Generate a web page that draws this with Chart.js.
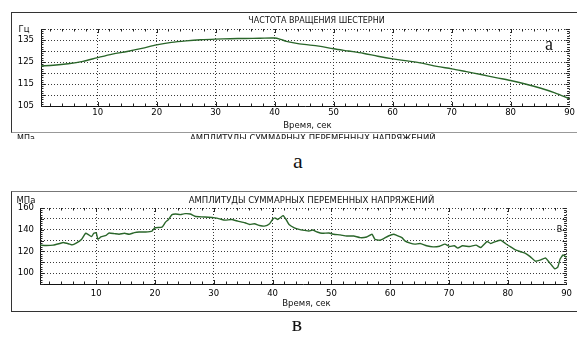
<!DOCTYPE html>
<html><head><meta charset="utf-8">
<script src="https://cdn.jsdelivr.net/npm/chart.js@4/dist/chart.umd.min.js"></script>
<style>
html,body{margin:0;padding:0;background:#fff;}
body{width:577px;height:339px;position:relative;overflow:hidden;font-family:"DejaVu Sans",sans-serif;color:#111;}
.abs{position:absolute;}
.t{position:absolute;white-space:nowrap;line-height:1;transform:translate(-50%,-50%);}
canvas{position:absolute;left:0;}
</style></head>
<body>
<!-- panel frames -->
<div class="abs" style="left:11px;top:12px;width:570px;height:119px;border-left:1px solid #333;border-top:1px solid #333;border-bottom:1px solid #999;"></div>
<div class="abs" style="left:11px;top:191px;width:570px;height:119px;border-left:1px solid #333;border-top:1px solid #777;border-bottom:1px solid #333;"></div>

<canvas id="c1" width="577" height="131" style="top:0"></canvas>
<canvas id="c2" width="577" height="120" style="top:190px"></canvas>

<!-- top chart texts -->
<div class="t" style="left:24px;top:28.5px;font-size:8.5px;">Гц</div>
<div class="t" style="left:316.5px;top:21px;font-size:8px;">ЧАСТОТА ВРАЩЕНИЯ ШЕСТЕРНИ</div>
<div class="t" style="left:307.5px;top:125px;font-size:8.5px;">Время, сек</div>
<div class="t" style="left:549px;top:44px;font-size:18px;font-family:'Liberation Serif',serif;">а</div>
<div class="abs" style="left:0;top:133px;width:577px;height:6px;overflow:hidden;">
  <div class="abs" style="left:17px;top:2px;font-size:8px;line-height:1;">МПа</div>
  <div class="abs" style="left:190px;top:1px;font-size:8.5px;line-height:1;white-space:nowrap;">АМПЛИТУДЫ СУММАРНЫХ ПЕРЕМЕННЫХ НАПРЯЖЕНИЙ</div>
</div>
<div class="t" style="left:298px;top:161px;font-size:22px;font-family:'Liberation Serif',serif;">а</div>

<!-- bottom chart texts -->
<div class="t" style="left:26px;top:200px;font-size:8.5px;">МПа</div>
<div class="t" style="left:311.5px;top:200px;font-size:8.5px;">АМПЛИТУДЫ СУММАРНЫХ ПЕРЕМЕННЫХ НАПРЯЖЕНИЙ</div>
<div class="t" style="left:306.5px;top:303px;font-size:8.5px;">Время, сек</div>
<div class="t" style="left:559.5px;top:229.5px;font-size:8px;">В</div>
<div class="t" style="left:297px;top:324px;font-size:22px;font-family:'Liberation Serif',serif;">в</div>

<script>
// ---- data ----
const topTime = [0.4, 2.5, 5, 7.5, 10, 12.5, 15, 17.5, 20, 22.5, 25, 27.5, 30, 32.5, 35, 37.5, 40, 41, 42, 43.5, 45, 47.5, 50, 52.5, 55, 57.5, 60, 62.5, 65, 67.5, 70, 72.5, 75, 77.5, 80, 82.5, 85, 87.5, 90];
const topFreq = [123.2, 123.5, 124.2, 125.3, 127.0, 128.6, 129.8, 131.2, 132.8, 133.9, 134.6, 135.1, 135.4, 135.6, 135.7, 135.8, 135.9, 135.3, 134.4, 133.6, 133.0, 132.2, 131.0, 130.0, 129.0, 127.6, 126.4, 125.5, 124.5, 123.0, 121.9, 120.6, 119.3, 117.9, 116.6, 115.0, 113.2, 111.0, 108.3];

const botTime = [0.45, 1.5, 2.7, 3.8, 4.4, 5.5, 5.9, 6.6, 7.5, 8.2, 8.6, 9.2, 9.6, 10.0, 10.3, 10.8, 11.7, 12.2, 13.1, 13.9, 14.8, 15.6, 16.5, 17.3, 18.4, 19.5, 20.0, 21.2, 21.8, 22.3, 22.9, 23.5, 24.3, 25.1, 26.0, 26.8, 27.9, 29.1, 30.2, 31.0, 31.9, 33.0, 34.1, 35.3, 36.1, 36.9, 37.8, 38.6, 39.5, 40.0, 40.4, 40.9, 41.4, 41.8, 42.3, 42.8, 43.7, 44.5, 45.4, 46.2, 46.8, 47.6, 48.4, 49.6, 50.4, 51.5, 52.6, 53.8, 54.9, 56.0, 56.9, 57.4, 58.2, 58.9, 59.7, 60.6, 61.1, 62.0, 62.5, 63.4, 64.2, 65.1, 66.2, 67.3, 68.4, 69.3, 70.1, 70.9, 71.5, 72.3, 73.5, 74.6, 75.4, 76.0, 76.5, 77.1, 77.9, 78.8, 79.6, 80.5, 81.3, 82.2, 83.0, 83.8, 84.7, 85.5, 86.4, 86.9, 87.5, 88.0, 88.5, 88.9, 89.4, 90.0];
const botStress = [125.8, 125.5, 125.8, 127.3, 128.2, 126.7, 126.0, 127.6, 131.0, 136.7, 135.8, 133.6, 136.7, 137.3, 131.2, 133.3, 134.8, 137.0, 136.4, 135.8, 136.7, 135.8, 137.3, 137.9, 137.9, 138.8, 141.8, 142.4, 147.0, 149.4, 153.9, 154.5, 153.9, 154.8, 154.5, 152.4, 151.8, 151.5, 150.9, 150.0, 148.8, 149.4, 147.9, 146.4, 144.8, 145.5, 143.9, 143.3, 145.5, 149.4, 150.9, 149.4, 151.5, 153.0, 149.4, 144.8, 141.8, 140.3, 139.4, 138.8, 139.7, 137.9, 136.7, 137.0, 135.8, 135.2, 134.2, 134.2, 132.7, 133.3, 135.8, 131.2, 130.3, 131.8, 134.2, 135.8, 134.8, 132.7, 129.7, 127.6, 126.7, 127.3, 125.2, 124.2, 124.8, 126.7, 124.5, 125.2, 123.0, 125.2, 124.5, 125.8, 123.6, 126.7, 129.1, 127.3, 129.1, 130.3, 127.3, 124.2, 121.5, 119.7, 118.2, 115.2, 111.0, 112.0, 114.0, 111.0, 107.0, 103.9, 105.5, 113.0, 116.7, 114.5];

const xTickValues = [10, 20, 30, 40, 50, 60, 70, 80, 90];
const topGridValues = [105, 110, 115, 120, 125, 130, 135, 140];
const topLabelValues = [105, 115, 125, 135];
const botGridValues = [90, 100, 110, 120, 130, 140, 150, 160];
const botLabelValues = [100, 120, 140, 160];

// inward minor tick marks, positioned through the chart scales
const innerTicks = {
  id: 'innerTicks',
  beforeDatasetsDraw(chart, args, o) {
    const {ctx, chartArea: a, scales: {x, y}} = chart;
    ctx.save();
    ctx.strokeStyle = '#222';
    ctx.lineWidth = 1;
    ctx.beginPath();
    for (let v = Math.ceil(x.min / o.xStep) * o.xStep; v < x.max; v += o.xStep) {
      const px = Math.round(x.getPixelForValue(v)) + 0.5;
      const L = (Math.abs(v % 10) < 1e-6) ? o.majorLen : o.len;
      ctx.moveTo(px, a.bottom); ctx.lineTo(px, a.bottom - L);
      ctx.moveTo(px, a.top); ctx.lineTo(px, a.top + L);
    }
    for (let v = Math.ceil(y.min / o.yStep) * o.yStep; v <= y.max; v += o.yStep) {
      const py = Math.round(y.getPixelForValue(v)) + 0.5;
      const L = (Math.abs(v % o.yMajor) < 1e-6) ? o.majorLen : o.len;
      ctx.moveTo(a.left, py); ctx.lineTo(a.left + L, py);
      ctx.moveTo(a.right, py); ctx.lineTo(a.right - L, py);
    }
    ctx.stroke();
    ctx.restore();
  }
};

const tickFont = {family: 'DejaVu Sans', size: 8.5};

function makeChart(id, times, values, c) {
  const pts = times.map((t, i) => ({x: t, y: values[i]}));
  return new Chart(document.getElementById(id), {
    type: 'line',
    data: {datasets: [{data: pts, borderColor: '#2a662a', borderWidth: 1.4, pointRadius: 0, tension: c.tension, fill: false}]},
    options: {
      responsive: false, animation: false, devicePixelRatio: 1,
      layout: {padding: {top: c.padTop, right: c.padRight, left: 0, bottom: 0}},
      plugins: {legend: {display: false}, tooltip: {enabled: false},
        innerTicks: {xStep: 2, yStep: c.yStep, yMajor: c.yMajor, len: 2.5, majorLen: 4}},
      scales: {
        x: {
          type: 'linear', min: c.xMin, max: 90,
          afterBuildTicks: s => { s.ticks = xTickValues.map(v => ({value: v})); },
          afterFit: s => { s.height = c.xHeight; },
          ticks: {padding: c.xPad, color: '#000', font: tickFont, maxRotation: 0, autoSkip: false},
          grid: {color: '#3a3a3a', lineWidth: 1, drawTicks: false},
          border: {display: true, color: '#111', width: 1, dash: [1, 2]}
        },
        y: {
          type: 'linear', min: c.yMin, max: c.yMax,
          afterBuildTicks: s => { s.ticks = c.grid.map(v => ({value: v})); },
          afterFit: s => { s.width = c.yWidth; },
          ticks: {padding: c.yPad, color: '#000', font: tickFont, autoSkip: false,
            callback: v => c.labels.includes(v) ? String(v) : ''},
          grid: {color: ctx => (ctx.tick && ctx.tick.value === c.yMin) ? 'rgba(0,0,0,0)' : '#3a3a3a', lineWidth: 1, drawTicks: false},
          border: {display: true, color: '#111', width: 1, dash: [1, 2]}
        }
      }
    },
    plugins: [innerTicks]
  });
}

makeChart('c1', topTime, topFreq, {
  tension: 0.3, padTop: 29, padRight: 5, xMin: 0.4, xHeight: 25, xPad: 2,
  yMin: 105, yMax: 140, grid: topGridValues, labels: topLabelValues, yWidth: 41, yPad: 7,
  yStep: 1, yMajor: 5
});
makeChart('c2', botTime, botStress, {
  tension: 0.15, padTop: 18, padRight: 5, xMin: 0.45, xHeight: 26, xPad: 5,
  yMin: 90, yMax: 160, grid: botGridValues, labels: botLabelValues, yWidth: 40, yPad: 6,
  yStep: 2, yMajor: 10
});
</script>
</body></html>
